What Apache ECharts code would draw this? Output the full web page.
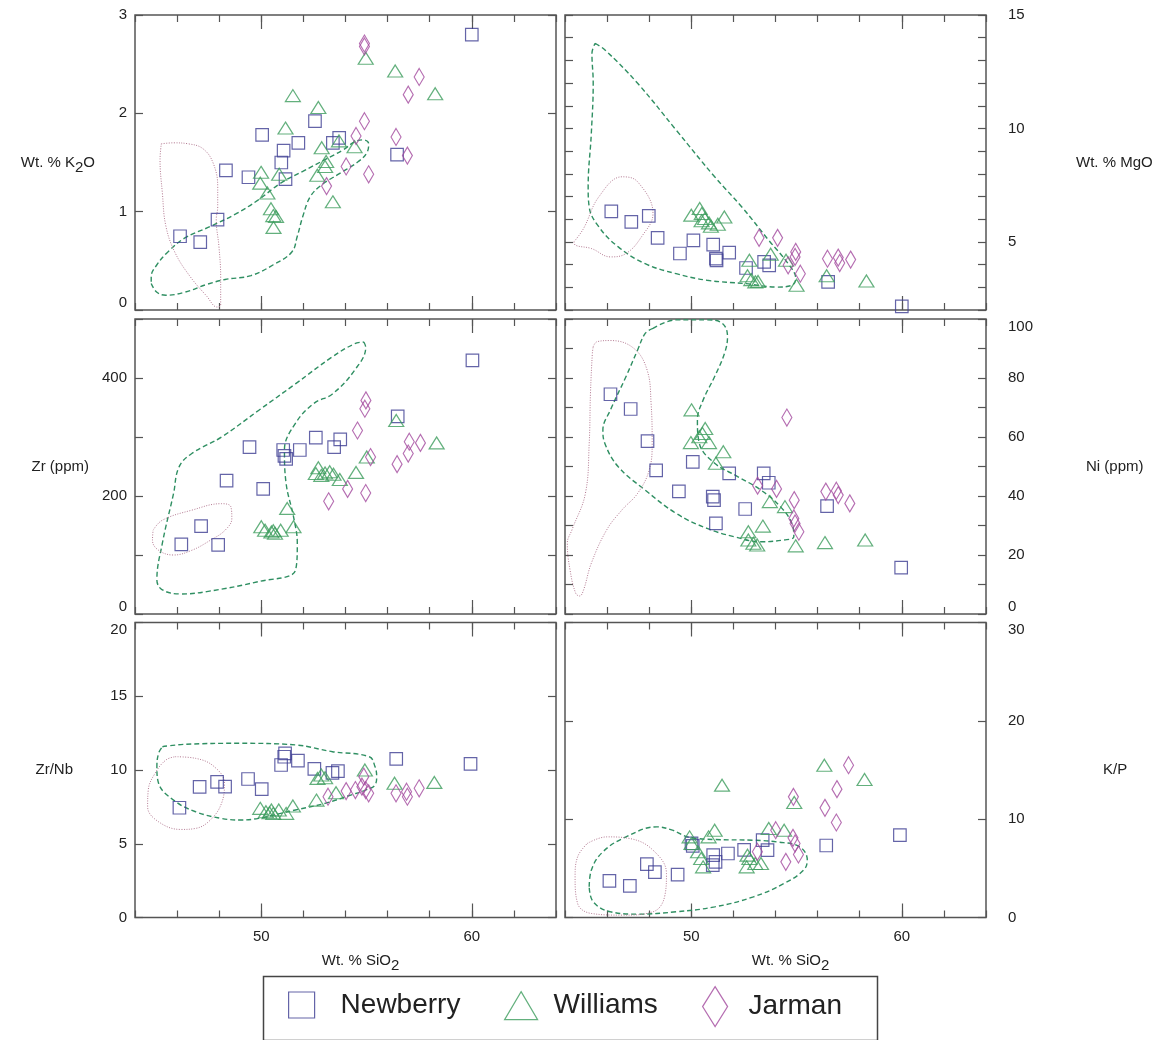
<!DOCTYPE html>
<html>
<head>
<meta charset="utf-8">
<script src="https://cdn.jsdelivr.net/npm/echarts@6/dist/echarts.min.js"></script>
<style>
  html, body { margin: 0; background: #fff; }
  #chart { width: 1166px; height: 1040px; }
</style>
</head>
<body>
<div id="chart"></div>
<script>
// x = Wt. % SiO2, y = panel variable
const k2oNewberry = [[60.0,2.80],[52.55,1.92],[50.04,1.78],[53.7,1.75],[53.4,1.70],[51.76,1.70],[51.06,1.62],[50.95,1.50],[51.15,1.33],[49.39,1.35],[48.32,1.42],[56.45,1.58],[47.92,0.92],[46.14,0.75],[47.1,0.69]];
const k2oWilliams = [[54.96,2.56],[56.36,2.43],[58.26,2.20],[51.5,2.18],[52.71,2.06],[51.15,1.85],[52.87,1.65],[54.43,1.66],[53.69,1.72],[53.08,1.51],[53.03,1.46],[52.66,1.37],[50.85,1.38],[49.99,1.40],[49.95,1.29],[50.29,1.19],[50.46,1.03],[50.57,0.96],[50.7,0.95],[50.58,0.84],[53.4,1.10]];
const k2oJarman = [[54.9,2.71],[54.9,2.68],[57.5,2.37],[56.98,2.19],[54.9,1.92],[54.5,1.77],[56.4,1.76],[56.94,1.57],[54.03,1.46],[55.1,1.38],[53.1,1.26]];

const mgoNewberry = [[46.2,6.35],[47.15,5.88],[47.98,6.15],[48.4,5.18],[49.46,4.49],[50.1,5.07],[51.04,4.88],[51.8,4.53],[51.17,4.26],[51.2,4.19],[52.6,3.85],[53.46,4.12],[53.7,3.97],[56.5,3.24],[60.0,2.16]];
const mgoWilliams = [[50.0,6.18],[50.4,6.47],[50.5,6.25],[50.65,6.03],[50.49,5.93],[50.84,5.84],[50.93,5.69],[51.26,5.78],[51.57,6.1],[52.76,4.19],[53.77,4.46],[54.5,4.19],[52.67,3.51],[52.85,3.34],[53.04,3.24],[53.17,3.26],[55.0,3.09],[56.43,3.51],[58.32,3.28]];
const mgoJarman = [[53.22,5.18],[54.1,5.18],[54.96,4.56],[54.93,4.34],[54.6,3.97],[55.18,3.6],[56.47,4.26],[56.98,4.31],[57.05,4.07],[57.57,4.22]];

const zrNewberry = [[60.03,430],[56.48,335],[52.59,299],[53.75,296],[53.46,283],[51.83,278],[49.44,283],[51.04,278],[51.18,263],[51.1,268],[48.35,226],[50.09,212],[47.14,149],[46.2,118],[47.95,117]];
const zrWilliams = [[56.41,328],[58.33,290],[55.01,266],[54.5,240],[53.73,228],[52.71,248],[53.03,239],[53.25,241],[52.85,235],[53.43,237],[52.59,238],[51.23,179],[50.0,148],[50.18,142],[50.48,139],[50.65,137],[50.92,142],[51.53,148],[50.57,141]];
const zrJarman = [[54.97,362],[54.92,348],[54.57,311],[57.03,292],[57.56,290],[56.98,272],[55.19,266],[56.45,254],[54.1,212],[54.96,205],[53.2,191]];

const niNewberry = [[46.16,74.5],[47.12,69.5],[47.92,58.6],[48.33,48.7],[49.41,41.6],[50.07,51.6],[51.02,39.8],[51.08,38.6],[51.8,47.7],[51.17,30.7],[52.56,35.6],[53.44,47.7],[53.68,44.5],[56.45,36.6],[59.97,15.7]];
const niWilliams = [[50.01,69.2],[50.66,62.9],[50.53,61.2],[50.38,60.1],[49.98,58.1],[50.84,58.1],[51.52,55.0],[51.17,51.1],[53.73,38.1],[54.45,36.4],[53.4,29.8],[52.71,27.9],[52.71,25.1],[52.95,24.0],[53.13,23.4],[54.96,23.1],[56.35,24.2],[58.26,25.1]];
const niJarman = [[54.54,66.6],[53.15,43.5],[54.05,42.4],[54.89,38.6],[54.87,32.4],[54.93,30.7],[55.11,27.9],[56.39,41.5],[56.89,41.8],[56.98,40.3],[57.53,37.5]];

const zrnbNewberry = [[46.11,7.44],[47.07,8.85],[47.9,9.19],[48.28,8.87],[49.37,9.39],[50.02,8.71],[50.94,10.34],[51.09,10.9],[51.13,11.13],[51.74,10.63],[52.52,10.07],[53.38,9.8],[53.64,9.93],[56.41,10.75],[59.94,10.41]];
const zrnbWilliams = [[54.92,10.0],[56.33,9.1],[58.22,9.16],[52.67,9.43],[52.85,9.66],[53.03,9.48],[52.62,7.96],[53.55,8.46],[49.95,7.4],[50.22,7.17],[50.39,7.1],[50.57,7.06],[50.48,7.29],[50.83,7.29],[51.18,7.06],[51.5,7.56]];
const zrnbJarman = [[54.87,9.55],[54.78,8.87],[54.96,8.64],[55.1,8.42],[54.47,8.64],[54.03,8.57],[53.17,8.19],[56.4,8.42],[56.9,8.53],[56.94,8.19],[57.5,8.76]];

const kpNewberry = [[46.11,3.73],[47.08,3.22],[47.89,5.42],[48.27,4.61],[49.35,4.37],[50.01,7.53],[50.07,7.29],[51.04,6.34],[51.02,5.32],[51.15,5.66],[51.74,6.51],[52.51,6.88],[53.39,7.86],[53.62,6.85],[56.41,7.32],[59.91,8.37]];
const kpWilliams = [[56.32,15.49],[58.23,14.03],[51.46,13.46],[54.89,11.69],[53.68,9.05],[54.41,8.88],[51.11,8.88],[50.82,8.2],[49.92,8.2],[50.01,7.53],[50.32,6.68],[50.47,6.0],[50.56,5.15],[52.67,6.34],[52.76,6.0],[52.63,5.15],[53.04,5.49],[53.31,5.49]];
const kpJarman = [[57.47,15.49],[56.92,13.05],[56.35,11.15],[56.89,9.66],[54.85,12.27],[54.01,8.88],[54.83,8.1],[54.93,7.53],[55.09,6.41],[54.49,5.66],[53.14,6.68]];

// outlined fields (dashed green, dotted pink)
const k2oField = [[44.77,0.27],[45.04,0.18],[45.47,0.15],[46.35,0.18],[47.41,0.26],[48.28,0.31],[49.51,0.35],[50.57,0.46],[51.45,0.59],[51.71,0.75],[51.97,0.95],[52.32,1.15],[52.85,1.27],[53.73,1.39],[54.61,1.51],[55.04,1.61],[55.1,1.69],[54.87,1.73],[54.43,1.71],[53.9,1.63],[53.03,1.53],[51.97,1.41],[50.92,1.29],[49.86,1.12],[48.81,0.98],[47.58,0.85],[46.35,0.73],[45.56,0.59],[45.04,0.46],[44.77,0.34],[44.77,0.27]];
const k2oCore = [[45.25,1.69],[45.83,1.70],[46.53,1.69],[47.23,1.64],[47.72,1.49],[47.93,1.25],[47.93,1.05],[47.86,0.92],[47.99,0.64],[48.07,0.34],[48.07,0.05],[47.9,0.03],[47.41,0.14],[46.62,0.34],[45.91,0.58],[45.47,0.85],[45.3,1.19],[45.19,1.53],[45.25,1.69]];
const mgoField = [[45.43,13.75],[45.9,13.46],[47.45,11.99],[49.28,9.93],[51.11,7.87],[52.4,6.54],[53.68,5.07],[54.6,4.04],[54.96,3.38],[54.78,3.09],[54.05,3.01],[52.6,3.16],[50.75,3.31],[49.28,3.6],[47.81,4.04],[46.53,4.78],[45.61,5.66],[45.15,6.54],[45.1,7.43],[45.25,9.78],[45.34,11.99],[45.28,13.31],[45.43,13.75]];
const mgoCore = [[44.42,5.0],[44.88,5.59],[45.61,6.99],[46.71,7.87],[47.45,7.65],[48.18,6.25],[47.63,5.22],[46.9,4.49],[46.16,4.34],[45.25,4.71],[44.5,4.85],[44.42,5.0]];
const zrField = [[54.87,461],[54.96,452],[54.43,413],[53.38,373],[52.5,357],[51.62,323],[51.1,278],[51.18,221],[51.53,165],[51.71,120],[51.62,74],[49.87,55],[47.41,38],[46.18,34],[45.3,41],[45.04,58],[45.3,120],[45.83,204],[46.09,249],[46.7,272],[48.11,300],[49.87,345],[51.62,390],[53.38,436],[54.43,458],[54.87,461]];
const zrCore = [[44.86,142],[45.3,159],[46.7,176],[48.11,187],[48.55,182],[48.6,162],[48.28,142],[47.58,125],[46.7,108],[45.83,100],[45.12,108],[44.83,125],[44.86,142]];
const niField = [[48.18,96.8],[49.28,99.7],[50.75,99.7],[51.48,98.5],[51.72,94.0],[51.58,88.4],[51.11,80.5],[50.56,72.5],[50.29,65.8],[50.38,57.9],[51.11,51.1],[52.2,46.6],[53.31,42.0],[54.23,36.4],[54.78,30.7],[54.87,26.2],[54.41,25.1],[53.31,24.5],[52.03,26.2],[50.75,29.0],[49.28,34.1],[47.81,42.0],[46.53,49.9],[45.89,57.9],[45.8,62.4],[46.16,69.2],[46.9,80.5],[47.45,89.5],[47.81,95.1],[48.18,96.8]];
const niCore = [[45.34,90.6],[45.52,92.3],[46.16,92.7],[47.26,90.1],[47.9,82.7],[48.09,71.4],[48.14,57.9],[48.0,48.8],[47.45,40.9],[46.71,35.3],[45.98,28.5],[45.25,17.2],[44.88,8.1],[44.7,6.1],[44.51,7.0],[44.24,14.9],[44.11,24.0],[44.33,28.5],[44.97,40.9],[45.15,57.9],[45.21,74.8],[45.3,88.4],[45.34,90.6]];
const zrnbField = [[45.3,11.58],[46.35,11.74],[48.98,11.81],[51.62,11.7],[53.38,11.24],[55.13,10.9],[55.4,10.23],[55.48,9.55],[55.4,8.98],[54.96,8.64],[54.25,8.3],[53.03,7.74],[51.62,7.29],[50.92,7.06],[49.87,6.72],[48.98,6.61],[48.1,6.72],[46.88,7.17],[45.83,7.96],[45.12,9.1],[45.04,10.23],[45.12,11.13],[45.3,11.58]];
const zrnbCore = [[45.91,10.9],[46.88,10.79],[47.76,10.23],[48.25,9.1],[48.11,7.74],[47.58,6.61],[46.88,6.04],[46.18,5.97],[45.12,6.49],[44.6,7.51],[44.63,8.64],[44.95,9.77],[45.47,10.68],[45.91,10.9]];
const kpField = [[45.15,3.12],[45.25,4.81],[45.8,6.68],[46.9,8.2],[48.36,9.22],[49.1,8.88],[49.83,8.2],[51.11,7.93],[52.95,7.86],[54.05,7.69],[55.15,7.19],[55.51,5.83],[55.33,4.81],[54.41,3.46],[52.95,2.1],[51.11,1.08],[49.28,0.58],[47.45,0.34],[46.16,0.58],[45.34,1.59],[45.15,3.12]];
const kpCore = [[45.06,7.53],[45.98,8.2],[47.08,8.03],[48.18,6.85],[48.82,4.47],[48.73,2.1],[48.18,0.58],[46.71,0.24],[45.25,0.41],[44.6,1.42],[44.48,4.14],[44.6,6.17],[45.06,7.53]];

const siLabels = [50, 60];

const FONT = '"Liberation Sans", Arial, Helvetica, sans-serif';
const NB = '#3d3d92', WM = '#3c9c5c', JM = '#a2489e';
const FIELD = '#2f8f62', CORE = '#b47a92';
const FRAME = '#555';

// subscript "2": pushed down with top padding on its own rich token
const rich = {
  n: { fontSize: 15, color: '#222', fontFamily: FONT },
  s: { fontSize: 15, color: '#222', fontFamily: FONT, padding: [11, 0, 0, 0] }
};

const panels = [
  { name: '{n|Wt. % K}{s|2}{n|O}', nameGap: 40, min: 0, max: 3, interval: 1, labels: [0, 1, 2, 3], minAlign: 'bottom', maxAlign: 'middle',
    sets: [k2oNewberry, k2oWilliams, k2oJarman], field: k2oField, core: k2oCore },
  { name: '{n|Wt. % MgO}', nameGap: 90, min: 2, max: 15, interval: 1, labels: [5, 10, 15], minAlign: 'middle', maxAlign: 'middle',
    sets: [mgoNewberry, mgoWilliams, mgoJarman], field: mgoField, core: mgoCore },
  { name: '{n|Zr (ppm)}', nameGap: 46, min: 0, max: 500, interval: 100, labels: [0, 200, 400], minAlign: 'bottom', maxAlign: 'middle',
    sets: [zrNewberry, zrWilliams, zrJarman], field: zrField, core: zrCore },
  { name: '{n|Ni (ppm)}', nameGap: 100, min: 0, max: 100, interval: 10, labels: [0, 20, 40, 60, 80, 100], minAlign: 'bottom', maxAlign: 'top',
    sets: [niNewberry, niWilliams, niJarman], field: niField, core: niCore },
  { name: '{n|Zr/Nb}', nameGap: 62, min: 0, max: 20, interval: 5, labels: [0, 5, 10, 15, 20], minAlign: 'middle', maxAlign: 'top',
    sets: [zrnbNewberry, zrnbWilliams, zrnbJarman], field: zrnbField, core: zrnbCore },
  { name: '{n|K/P}', nameGap: 117, min: 0, max: 30, interval: 10, labels: [0, 10, 20, 30], minAlign: 'middle', maxAlign: 'top',
    sets: [kpNewberry, kpWilliams, kpJarman], field: kpField, core: kpCore }
];

const groups = [
  { name: 'Newberry', symbol: 'rect', size: 12.5, color: NB },
  { name: 'Williams', symbol: 'triangle', size: [15, 12], color: WM },
  { name: 'Jarman', symbol: 'diamond', size: [10, 17], color: JM }
];

const rowTops = [15, 319, 622.5];
const tickStyle = { color: FRAME, width: 1.2 };

const grids = [], xAxes = [], yAxes = [], series = [];

panels.forEach((p, i) => {
  const col = i % 2, row = Math.floor(i / 2);
  grids.push({ left: col ? 565 : 135, top: rowTops[row], width: 421, height: 295,
    show: true, borderColor: FRAME, borderWidth: 1.5, backgroundColor: 'transparent' });

  const xBase = { gridIndex: i, type: 'value', min: 44, max: 64, interval: 2,
    axisLine: { show: false, onZero: false }, splitLine: { show: false }, axisLabel: { show: false } };
  const xi = xAxes.length;
  ['bottom', 'top'].forEach(pos => {
    xAxes.push({ ...xBase, position: pos, axisTick: { inside: true, length: 7, lineStyle: tickStyle } });
    const major = { ...xBase, position: pos, axisTick: { inside: true, length: 14, customValues: siLabels, lineStyle: tickStyle } };
    if (pos === 'bottom' && row === 2) {
      major.axisLabel = { show: true, customValues: siLabels, fontSize: 15, color: '#222', margin: 12, fontFamily: FONT };
      major.name = '{n|Wt. % SiO}{s|2}';
      major.nameLocation = 'middle';
      major.nameGap = 30;
      major.nameTextStyle = { rich, padding: [0, 0, 0, 30] };
    }
    xAxes.push(major);
  });

  const yBase = { gridIndex: i, type: 'value', min: p.min, max: p.max, interval: p.interval,
    axisLine: { show: false, onZero: false }, splitLine: { show: false },
    axisTick: { inside: true, length: 8, lineStyle: tickStyle } };
  const yi = yAxes.length;
  ['left', 'right'].forEach((pos, k) => {
    const ax = { ...yBase, position: pos, axisLabel: { show: false } };
    if (k === col) {
      ax.axisLabel = { show: true, customValues: p.labels, fontSize: 15, color: '#222', fontFamily: FONT,
        margin: col ? 22 : 8, verticalAlignMinLabel: p.minAlign, verticalAlignMaxLabel: p.maxAlign };
      ax.name = p.name;
      ax.nameLocation = 'middle';
      ax.nameRotate = 0;
      ax.nameGap = p.nameGap;
      ax.nameTextStyle = { rich };
    }
    yAxes.push(ax);
  });

  series.push({ type: 'line', xAxisIndex: xi, yAxisIndex: yi, data: p.field, smooth: 0.4, symbol: 'none', silent: true,
    lineStyle: { color: FIELD, width: 1.4, type: [5, 3] }, z: 2 });
  series.push({ type: 'line', xAxisIndex: xi, yAxisIndex: yi, data: p.core, smooth: 0.4, symbol: 'none', silent: true,
    lineStyle: { color: CORE, width: 1, type: [1, 1.5] }, z: 2 });

  groups.forEach((g, k) => {
    series.push({ type: 'scatter', name: g.name, xAxisIndex: xi, yAxisIndex: yi, data: p.sets[k],
      symbol: g.symbol, symbolSize: g.size, z: 3,
      itemStyle: { color: 'rgba(0,0,0,0)', borderColor: g.color, borderWidth: 1.2 } });
  });
});

const legendItems = [
  { name: 'Newberry', icon: 'rect', w: 26, h: 26, left: 288, gap: 21, color: NB },
  { name: 'Williams', icon: 'triangle', w: 33, h: 28, left: 504, gap: 11, color: WM },
  { name: 'Jarman', icon: 'diamond', w: 25, h: 40, left: 702, gap: 16, color: JM }
];

const option = {
  backgroundColor: '#fff',
  animation: false,
  textStyle: { fontFamily: FONT },
  grid: grids,
  xAxis: xAxes,
  yAxis: yAxes,
  legend: legendItems.map(l => ({
    data: [l.name], icon: l.icon, left: l.left, top: 1006 - Math.max(l.h, 30) / 2,
    itemWidth: l.w, itemHeight: l.h, padding: 0, selectedMode: false,
    itemStyle: { color: 'rgba(0,0,0,0)', borderColor: l.color, borderWidth: 1.2 },
    textStyle: { fontSize: 28, color: '#222', fontFamily: FONT, padding: [0, 0, 0, l.gap] }
  })),
  graphic: [{
    type: 'rect', left: 261, top: 974, silent: true,
    shape: { width: 614, height: 64 },
    style: { fill: 'none', stroke: '#444', lineWidth: 1.5 }
  }],
  series
};

const chart = echarts.init(document.getElementById('chart'), null, { renderer: 'canvas' });
chart.setOption(option);
</script>
</body>
</html>
